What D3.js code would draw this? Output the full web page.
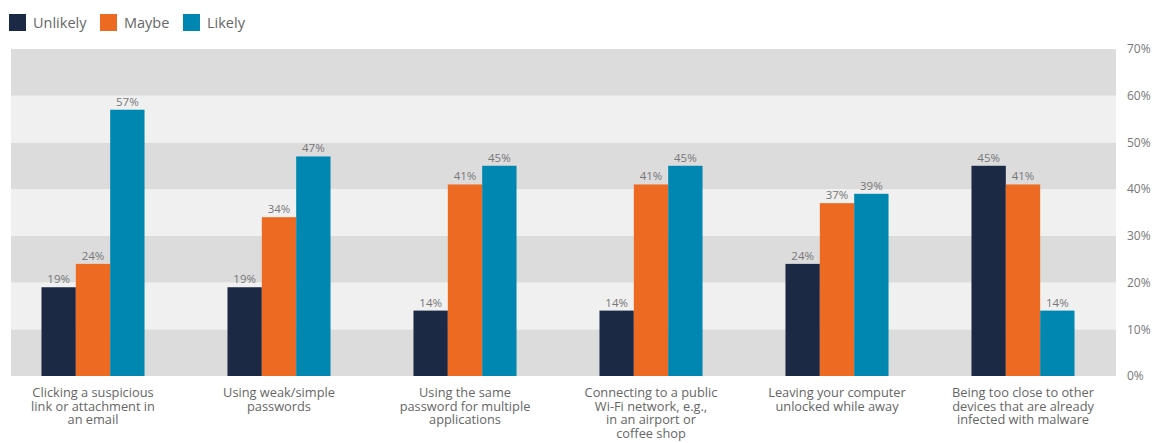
<!DOCTYPE html>
<html>
<head>
<meta charset="utf-8">
<script src="https://cdn.jsdelivr.net/npm/d3@7"></script>
<style>
  body { margin: 0; background: #fff; }
  svg { display: block; font-family: "Open Sans", sans-serif; }
</style>
</head>
<body>
<svg id="chart"></svg>
<script>
let categories = [
  ["Clicking a suspicious", "link or attachment in", "an email"],
  ["Using weak/simple", "passwords"],
  ["Using the same", "password for multiple", "applications"],
  ["Connecting to a public", "Wi-Fi network, e.g.,", "in an airport or", "coffee shop"],
  ["Leaving your computer", "unlocked while away"],
  ["Being too close to other", "devices that are already", "infected with malware"]
];
let seriesNames = ["Unlikely", "Maybe", "Likely"];
let unlikely = [19, 19, 14, 14, 24, 45];
let maybe = [24, 34, 41, 41, 37, 41];
let likely = [57, 47, 45, 45, 39, 14];
let yTicks = [0, 10, 20, 30, 40, 50, 60, 70];

let colors = ["#1c2944", "#ec6a22", "#0087b1"];
let width = 1160;
let height = 443;
let plotLeft = 11, plotRight = 1116, plotTop = 49, plotBottom = 376;

let svg = d3.select("#chart").attr("width", width).attr("height", height);

let series = [unlikely, maybe, likely];
let rows = categories.map((c, i) => ({ i: i, vals: series.map(s => s[i]) }));

let yScale = d3.scaleLinear().domain([0, 70]).range([plotBottom, plotTop]);

let xScale = d3.scaleBand()
  .domain(d3.range(categories.length))
  .range([0, plotRight])
  .paddingInner(0.446)
  .paddingOuter(0.223);

let xInner = d3.scaleBand()
  .domain(d3.range(seriesNames.length))
  .range([0, xScale.bandwidth()]);

// background bands
svg.append("g").selectAll("rect")
  .data(yTicks.slice(0, -1))
  .enter()
  .append("rect")
  .attr("x", plotLeft)
  .attr("width", plotRight - plotLeft)
  .attr("y", d => yScale(d + 10))
  .attr("height", d => yScale(d) - yScale(d + 10))
  .attr("fill", d => (d / 10) % 2 === 0 ? "#dcdcdc" : "#f0f0f0");

// right axis
let yAxis = d3.axisRight(yScale)
  .tickValues(yTicks)
  .tickFormat(d => d + "%")
  .tickSize(0)
  .tickPadding(0);

let ax = svg.append("g")
  .attr("transform", "translate(1127,0)")
  .call(yAxis);
ax.select(".domain").remove();
ax.selectAll("text")
  .attr("fill", "#777")
  .style("font-size", "12px")
  .style("font-family", "Open Sans, sans-serif");

// bars
let groups = svg.append("g").selectAll("g")
  .data(rows)
  .enter()
  .append("g")
  .attr("transform", d => "translate(" + xScale(d.i) + ",0)");

groups.selectAll("rect")
  .data(d => d.vals)
  .enter()
  .append("rect")
  .attr("x", (d, j) => xInner(j))
  .attr("width", xInner.bandwidth())
  .attr("y", d => yScale(d))
  .attr("height", d => plotBottom - yScale(d))
  .attr("fill", (d, j) => colors[j]);

groups.selectAll("text")
  .data(d => d.vals)
  .enter()
  .append("text")
  .attr("x", (d, j) => xInner(j) + xInner.bandwidth() / 2)
  .attr("y", d => yScale(d) - 4)
  .attr("text-anchor", "middle")
  .attr("fill", "#777")
  .style("font-size", "11.5px")
  .text(d => d + "%");

// category labels
let labels = svg.append("g").selectAll("text")
  .data(categories)
  .enter()
  .append("text")
  .attr("x", (d, i) => xScale(i) + xScale.bandwidth() / 2)
  .attr("y", 397)
  .attr("text-anchor", "middle")
  .attr("fill", "#666")
  .style("font-size", "12.8px");

labels.selectAll("tspan")
  .data(d => d)
  .enter()
  .append("tspan")
  .attr("x", function () { return d3.select(this.parentNode).attr("x"); })
  .attr("dy", (d, k) => k === 0 ? 0 : 13.7)
  .text(d => d);

// legend
let legendX = [9, 100, 183];
let legend = svg.append("g").selectAll("g")
  .data(seriesNames)
  .enter()
  .append("g")
  .attr("transform", (d, i) => "translate(" + legendX[i] + ",14)");

legend.append("rect")
  .attr("width", 17)
  .attr("height", 17)
  .attr("fill", (d, i) => colors[i]);

legend.append("text")
  .attr("x", 24)
  .attr("y", 14)
  .attr("fill", "#666")
  .style("font-size", "14.5px")
  .text(d => d);
</script>
</body>
</html>
